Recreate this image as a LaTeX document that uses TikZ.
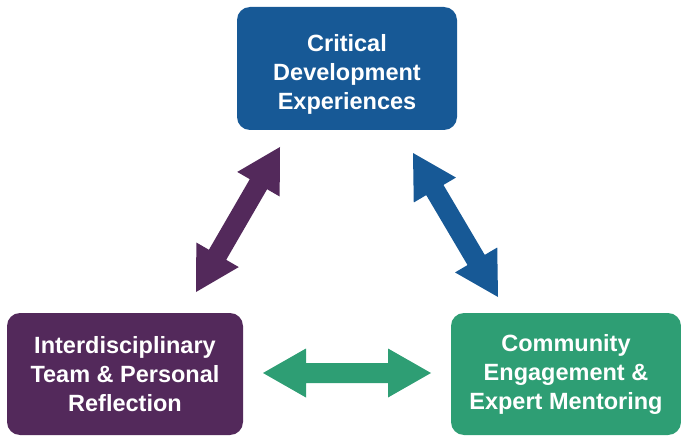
\documentclass[tikz,border=0pt]{standalone}
\usepackage{fontspec}
\setmainfont{Liberation Sans}
\usetikzlibrary{calc}
\definecolor{cdblue}{RGB}{23,89,150}
\definecolor{itpurple}{RGB}{83,41,91}
\definecolor{cegreen}{RGB}{46,158,116}
\tikzset{
  box/.style={rounded corners=13pt, fill=#1, inner sep=0pt},
  label/.style={text=white, align=center, inner sep=0pt,
    font=\bfseries\fontsize{23.5}{29}\selectfont},
}
% double-headed block arrow between two named tips
\newcommand\dblarrow[3]{%
  \coordinate (#1h) at ($(#1)!43pt!(#2)$);
  \coordinate (#2h) at ($(#2)!43pt!(#1)$);
  \fill[#3] (#1) -- ($(#1h)!24.5pt!90:(#1)$) -- ($(#1h)!10pt!90:(#1)$)
    -- ($(#2h)!10pt!-90:(#2)$) -- ($(#2h)!24.5pt!-90:(#2)$) -- (#2)
    -- ($(#2h)!24.5pt!90:(#2)$) -- ($(#2h)!10pt!90:(#2)$)
    -- ($(#1h)!10pt!-90:(#1)$) -- ($(#1h)!24.5pt!-90:(#1)$) -- cycle;}
\begin{document}
\begin{tikzpicture}[x=1pt,y=-1pt]
\useasboundingbox (0,0) rectangle (681,436);
% the three boxes
\node[box=cdblue, minimum width=220pt, minimum height=123pt] (cde) at (347,68.5) {};
\node[box=itpurple, minimum width=236pt, minimum height=122pt] (itp) at (125,374) {};
\node[box=cegreen, minimum width=230pt, minimum height=122pt] (cee) at (566,374) {};
\node[label] (cdet) at (347,74) {Critical\\Development\\Experiences};
\node[label] (itpt) at (125,374) {Interdisciplinary\\Team \& Personal\\Reflection};
\node[label] (ceet) at (566,374) {Community\\Engagement \&\\Expert Mentoring};
% arrow tips
\coordinate (pa) at (280,147);
\coordinate (pb) at (196,292);
\coordinate (ba) at (413,153);
\coordinate (bb) at (498,297);
\coordinate (ga) at (263,373);
\coordinate (gb) at (431,373);
\dblarrow{pa}{pb}{itpurple}
\dblarrow{ba}{bb}{cdblue}
\dblarrow{ga}{gb}{cegreen}
\end{tikzpicture}
\end{document}
